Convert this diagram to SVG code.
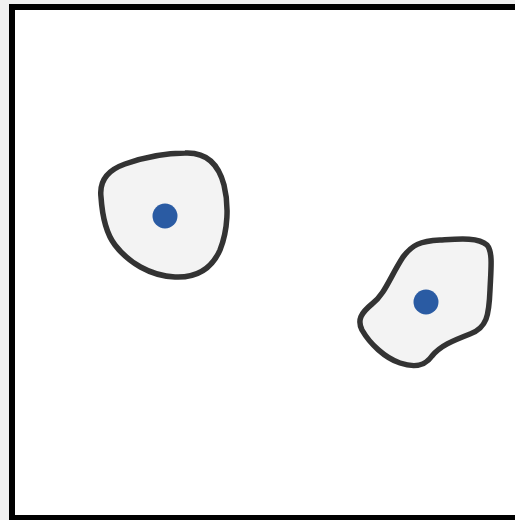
<svg xmlns="http://www.w3.org/2000/svg" width="515" height="520" viewBox="0 0 515 520">
<style>
.blob{fill:#f3f3f3;stroke:#333333;stroke-width:5.5;stroke-linejoin:round}
.dot{fill:#2a5ba3}
</style>
<rect x="0" y="0" width="515" height="520" fill="#f0f0f0"/>
<rect x="12" y="7" width="520" height="511" fill="#ffffff" stroke="#000000" stroke-width="6"/>
<g id="cell1">
<path class="blob" d="M101,197 C99,180 108,170 125,164 C145,157 165,153 185,153 C205,152 218,162 224,185 C229,205 228,230 220,250 C212,268 197,278 175,277 C150,276 128,262 115,245 C105,232 102,212 101,197 Z"/>
<circle class="dot" cx="165" cy="216" r="12.5"/>
</g>
<g id="cell2">
<path class="blob" d="M403,257 C412,245 420,241 440,240 C458,239 478,237 487,245 C493,252 491,268 490,290 C489,315 487,328 470,334 C452,341 440,346 432,356 C425,366 415,368 400,363 C385,358 370,344 362,330 C357,320 361,313 372,304 C385,294 390,277 403,257 Z"/>
<circle class="dot" cx="426" cy="302" r="12.5"/>
</g>
</svg>
